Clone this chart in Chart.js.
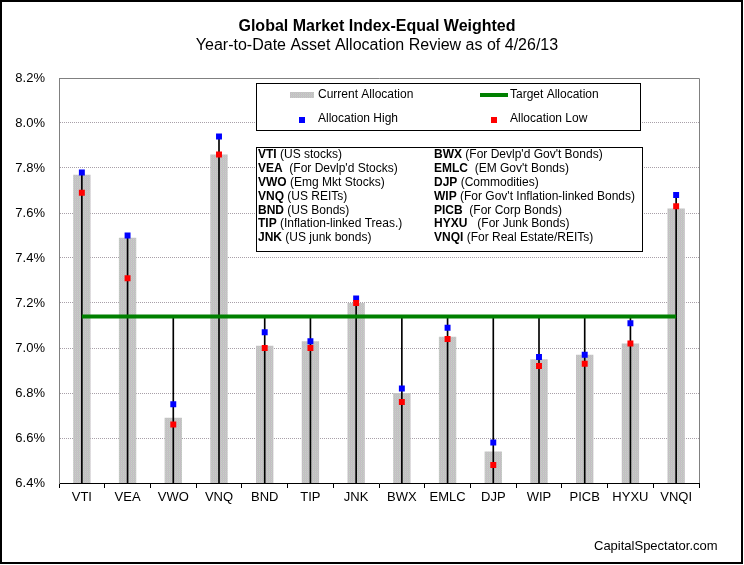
<!DOCTYPE html>
<html>
<head>
<meta charset="utf-8">
<title>Global Market Index-Equal Weighted</title>
<script src="https://cdn.jsdelivr.net/npm/chart.js@4.4.0/dist/chart.umd.min.js"></script>
<style>
    body { margin: 0; background: #fff; }
    canvas { display: block; }
</style>
</head>
<body>
<canvas id="myChart" width="744" height="565"></canvas>
<script>
// values (percent)
const tickers = ['VTI', 'VEA', 'VWO', 'VNQ', 'BND', 'TIP', 'JNK', 'BWX', 'EMLC', 'DJP', 'WIP', 'PICB', 'HYXU', 'VNQI'];
const currentAlloc = [7.77, 7.49, 6.69, 7.86, 7.01, 7.03, 7.20, 6.80, 7.05, 6.54, 6.95, 6.97, 7.02, 7.62];
const allocHigh = [7.78, 7.50, 6.75, 7.94, 7.07, 7.03, 7.22, 6.82, 7.09, 6.58, 6.96, 6.97, 7.11, 7.68];
const allocLow = [7.69, 7.31, 6.66, 7.86, 7.00, 7.00, 7.20, 6.76, 7.04, 6.48, 6.92, 6.93, 7.02, 7.63];
const targetAlloc = 7.14;
const yTicks = [6.4, 6.6, 6.8, 7.0, 7.2, 7.4, 7.6, 7.8, 8.0, 8.2];

const notesLeft = [['VTI', '(US stocks)'], ['VEA', ' (For Devlp\'d Stocks)'], ['VWO', '(Emg Mkt Stocks)'],
    ['VNQ', '(US REITs)'], ['BND', '(US Bonds)'], ['TIP', '(Inflation-linked Treas.)'], ['JNK', '(US junk bonds)']];
const notesRight = [['BWX', '(For Devlp\'d Gov\'t Bonds)'], ['EMLC', ' (EM Gov\'t Bonds)'], ['DJP', '(Commodities)'],
    ['WIP', '(For Gov\'t Inflation-linked Bonds)'], ['PICB', ' (For Corp Bonds)'], ['HYXU', '  (For Junk Bonds)'],
    ['VNQI', '(For Real Estate/REITs)']];

const FONT = '"Liberation Sans", Arial, sans-serif';

// dithered grey fill like the old excel bars
function barPattern() {
    const c = document.createElement('canvas');
    c.width = 2;
    c.height = 2;
    const g = c.getContext('2d');
    g.fillStyle = '#c8bec8'; g.fillRect(0, 0, 1, 1);
    g.fillStyle = '#bec8be'; g.fillRect(1, 0, 1, 1);
    g.fillStyle = '#c0c0c0'; g.fillRect(0, 1, 1, 1);
    g.fillStyle = '#cacaca'; g.fillRect(1, 1, 1, 1);
    return g.createPattern(c, 'repeat');
}

const ctx = document.getElementById('myChart');
const pattern = barPattern();
const yMin = yTicks[0];
const yMax = yTicks[yTicks.length - 1];

// black drop line from the higher of high/target down to the axis
const dropLines = allocHigh.map(h => [yMin, Math.max(h, targetAlloc)]);

const extras = {
    id: 'extras',
    afterDatasetsDraw(chart) {
        const c = chart.ctx;
        const area = chart.chartArea;
        c.save();
        // plot frame top + right
        c.strokeStyle = '#808080';
        c.lineWidth = 1;
        c.beginPath();
        c.moveTo(area.left, area.top + 0.5);
        c.lineTo(area.right + 0.5, area.top + 0.5);
        c.lineTo(area.right + 0.5, area.bottom);
        c.stroke();
        c.restore();
    },
    afterDraw(chart) {
        const c = chart.ctx;
        c.save();
        c.fillStyle = '#000';
        c.textAlign = 'center';
        c.textBaseline = 'middle';
        c.font = 'bold 16px ' + FONT;
        c.fillText('Global Market Index-Equal Weighted', 377, 27);
        c.font = '16px ' + FONT;
        c.fillText('Year-to-Date Asset Allocation Review as of 4/26/13', 377, 46);

        // legend box
        c.strokeStyle = '#000';
        c.lineWidth = 1;
        c.fillStyle = '#fff';
        c.fillRect(256.5, 83.5, 384, 47);
        c.strokeRect(256.5, 83.5, 384, 47);
        c.fillStyle = pattern;
        c.fillRect(290, 92, 24, 6);
        c.strokeStyle = '#008000';
        c.lineWidth = 4;
        c.beginPath();
        c.moveTo(480, 95);
        c.lineTo(508, 95);
        c.stroke();
        c.fillStyle = '#0000ff';
        c.fillRect(299, 117, 6, 6);
        c.fillStyle = '#ff0000';
        c.fillRect(491, 117, 6, 6);
        c.fillStyle = '#000';
        c.textAlign = 'left';
        c.font = '12px ' + FONT;
        c.fillText('Current Allocation', 318, 95);
        c.fillText('Target Allocation', 510, 95);
        c.fillText('Allocation High', 318, 119);
        c.fillText('Allocation Low', 510, 119);

        // ticker notes box
        c.fillStyle = '#fff';
        c.fillRect(256.5, 147.5, 386, 104);
        c.strokeStyle = '#000';
        c.lineWidth = 1;
        c.strokeRect(256.5, 147.5, 386, 104);
        c.fillStyle = '#000';
        const drawNote = (note, x, y) => {
            c.font = 'bold 12px ' + FONT;
            c.fillText(note[0], x, y);
            const w = c.measureText(note[0]).width;
            c.font = '12px ' + FONT;
            c.fillText(' ' + note[1], x + w, y);
        };
        notesLeft.forEach((n, i) => drawNote(n, 258, 155 + i * 13.8));
        notesRight.forEach((n, i) => drawNote(n, 434, 155 + i * 13.8));

        c.font = '13px ' + FONT;
        c.fillText('CapitalSpectator.com', 594, 546);

        // outer frame
        c.strokeStyle = '#000';
        c.lineWidth = 2;
        c.strokeRect(1, 1, 741, 562);
        c.restore();
    }
};

const myChart = new Chart(ctx, {
    data: {
        labels: tickers,
        datasets: [{
            type: 'line',
            label: 'Allocation Low',
            data: allocLow,
            showLine: false,
            pointStyle: 'rect',
            pointRadius: 4.2,
            pointBorderWidth: 0,
            pointBackgroundColor: '#ff0000',
            order: 1
        }, {
            type: 'line',
            label: 'Allocation High',
            data: allocHigh,
            showLine: false,
            pointStyle: 'rect',
            pointRadius: 4.2,
            pointBorderWidth: 0,
            pointBackgroundColor: '#0000ff',
            order: 2
        }, {
            type: 'line',
            label: 'Target Allocation',
            data: tickers.map(() => targetAlloc),
            borderColor: '#008000',
            borderWidth: 4,
            pointRadius: 0,
            order: 3
        }, {
            type: 'bar',
            label: 'drop',
            data: dropLines,
            backgroundColor: '#000',
            barThickness: 1,
            grouped: false,
            order: 4
        }, {
            type: 'bar',
            label: 'Current Allocation',
            data: currentAlloc,
            backgroundColor: pattern,
            categoryPercentage: 1,
            barPercentage: 0.38,
            grouped: false,
            order: 5
        }]
    },
    options: {
        responsive: false,
        animation: false,
        layout: {
            padding: { left: 0, top: 78, right: 45, bottom: 52 }
        },
        plugins: {
            legend: { display: false },
            tooltip: { enabled: false }
        },
        scales: {
            x: {
                offset: true,
                grid: {
                    offset: true,
                    drawOnChartArea: false,
                    tickLength: 5,
                    color: '#000'
                },
                border: { color: '#000', width: 1 },
                ticks: {
                    color: '#000',
                    padding: 2,
                    font: { family: FONT, size: 13 }
                },
                afterFit: function (scale) { scale.height = 30; }
            },
            y: {
                min: yMin,
                max: yMax,
                afterBuildTicks: function (scale) {
                    scale.ticks = yTicks.map(v => ({ value: v }));
                },
                grid: {
                    drawTicks: false,
                    color: '#a8a0a8'
                },
                border: { color: '#808080', width: 1, dash: [1, 1] },
                ticks: {
                    color: '#000',
                    padding: 14,
                    font: { family: FONT, size: 13 },
                    callback: v => v.toFixed(1) + '%'
                },
                afterFit: function (scale) { scale.width = 59; }
            }
        }
    },
    plugins: [extras]
});
</script>
</body>
</html>
